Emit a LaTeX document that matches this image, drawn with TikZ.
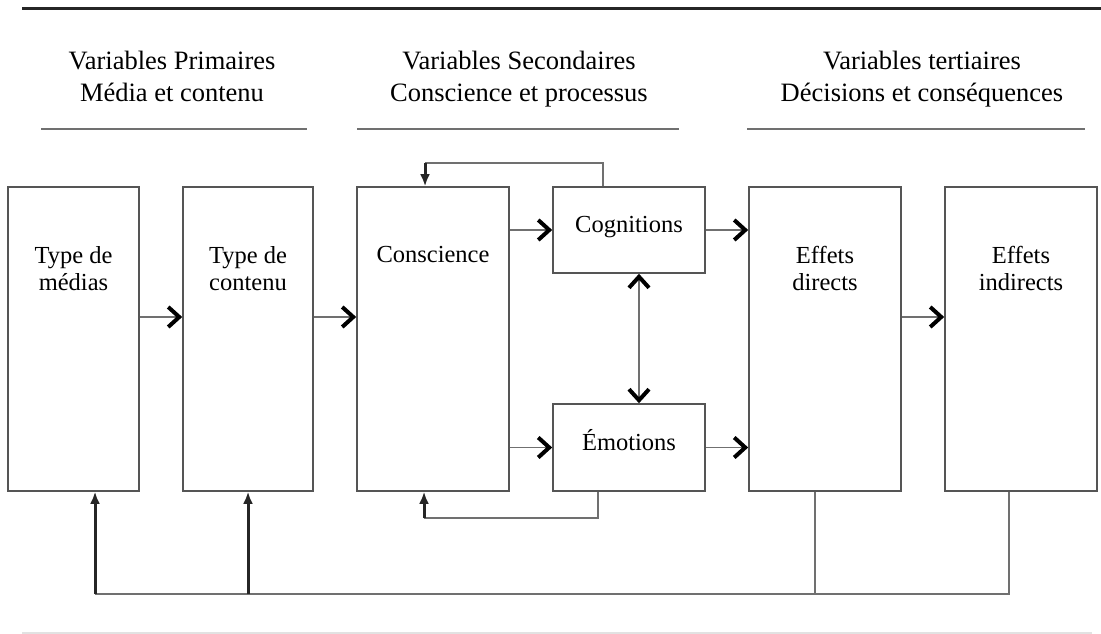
\documentclass[tikz,border=0pt]{standalone}
\usepackage{fontspec}
\setmainfont{Liberation Serif}
\usetikzlibrary{arrows.meta,calc}
\definecolor{boxgray}{HTML}{555555}
\definecolor{linegray}{HTML}{707070}
\definecolor{faint}{HTML}{E2E2E2}
\begin{document}
\begin{tikzpicture}[x=1pt,y=-1pt,
  box/.style={draw=boxgray,line width=1.6pt,rectangle,inner sep=0pt,fill=white},
  boxtext/.style={font=\fontsize{24.5}{27}\selectfont,align=center,inner sep=0pt,anchor=north},
  headtext/.style={font=\fontsize{26.5}{32}\selectfont,align=center,inner sep=0pt,anchor=north},
  chev/.tip={Straight Barb[color=black,line width=4pt,length=11pt,width=20pt]},
  arr/.style={draw=linegray,line width=1.8pt,-chev},
  dblarr/.style={draw=linegray,line width=1.8pt,chev-chev},
  fbline/.style={draw=linegray,line width=1.6pt},
  fbarrow/.style={draw=black!85,line width=3pt,-{Latex[length=12pt,width=10pt]}},
  rule/.style={draw=linegray,line width=1.5pt}]
\useasboundingbox (0,0) rectangle (1101,634);
% top and bottom rules
\coordinate (topL) at (22,9);
\coordinate (topR) at (1101,9);
\draw[draw=black!85,line width=3pt] (topL) -- (topR);
\coordinate (botL) at (22,633);
\coordinate (botR) at (1092,633);
\draw[draw=faint,line width=1.5pt] (botL) -- (botR);
% headers
\node[headtext] (h1) at (172,50.5) {Variables Primaires\\Média et contenu};
\node[headtext] (h2) at (519,50.5) {Variables Secondaires\\Conscience et processus};
\node[headtext] (h3) at (922,50.5) {Variables tertiaires\\Décisions et conséquences};
\coordinate (u1a) at (41,129); \coordinate (u1b) at (307,129);
\coordinate (u2a) at (357,129); \coordinate (u2b) at (679,129);
\coordinate (u3a) at (747,129); \coordinate (u3b) at (1085,129);
\draw[rule] (u1a) -- (u1b);
\draw[rule] (u2a) -- (u2b);
\draw[rule] (u3a) -- (u3b);
% boxes
\node[box,minimum width=131pt,minimum height=304pt] (m1) at (73.5,339) {};
\node[box,minimum width=130pt,minimum height=304pt] (m2) at (248,339) {};
\node[box,minimum width=152pt,minimum height=304pt] (cons) at (433,339) {};
\node[box,minimum width=152pt,minimum height=86pt] (cog) at (629,230) {};
\node[box,minimum width=152pt,minimum height=87pt] (emo) at (629,447.5) {};
\node[box,minimum width=152pt,minimum height=304pt] (dir) at (825,339) {};
\node[box,minimum width=152pt,minimum height=304pt] (ind) at (1021,339) {};
% box labels
\node[boxtext] (t1) at (73.5,246.5) {Type de\\médias};
\node[boxtext] (t2) at (248,246.5) {Type de\\contenu};
\node[boxtext] (t3) at (433,246) {Conscience};
\node[boxtext,anchor=base] (t4) at (629,232) {Cognitions};
\node[boxtext,anchor=base] (t5) at (629,450) {Émotions};
\node[boxtext] (t6) at (825,246.5) {Effets\\directs};
\node[boxtext] (t7) at (1021,246.5) {Effets\\indirects};
% main arrows
\coordinate (rowB) at (0,317);
\draw[arr] (m1.east |- rowB) -- (m2.west |- rowB);
\draw[arr] (m2.east |- rowB) -- (cons.west |- rowB);
\draw[arr] (cons.east |- cog.west) -- (cog.west);
\draw[arr] (cons.east |- emo.west) -- (emo.west);
\draw[arr] (cog.east) -- (dir.west |- cog.east);
\draw[arr] (emo.east) -- (dir.west |- emo.east);
\draw[arr] (dir.east |- rowB) -- (ind.west |- rowB);
\draw[dblarr] ([xshift=10pt]cog.south) -- ([xshift=10pt]emo.north);
% feedback to conscience
\coordinate (fbTop) at (0,163);
\coordinate (fbBot) at (0,518);
\draw[fbline] ([xshift=-26pt]cog.north) -- ([xshift=-26pt]cog.north |- fbTop) -- ([xshift=-8pt]cons.north |- fbTop);
\draw[fbarrow] ([xshift=-8pt]cons.north |- fbTop) -- ([xshift=-8pt]cons.north);
\draw[fbline] ([xshift=-31pt]emo.south) -- ([xshift=-31pt]emo.south |- fbBot) -- ([xshift=-9pt]cons.south |- fbBot);
\draw[fbarrow] ([xshift=-9pt]cons.south |- fbBot) -- ([xshift=-9pt]cons.south);
% bottom loop
\coordinate (loopY) at (0,594);
\draw[fbline] ([xshift=-12pt]ind.south) -- ([xshift=-12pt]ind.south |- loopY) -- ([xshift=21.5pt]m1.south |- loopY);
\draw[fbline] ([xshift=-10pt]dir.south) -- ([xshift=-10pt]dir.south |- loopY);
\draw[fbarrow] ([xshift=21.5pt]m1.south |- loopY) -- ([xshift=21.5pt]m1.south);
\draw[fbarrow] (m2.south |- loopY) -- (m2.south);
\end{tikzpicture}
\end{document}
